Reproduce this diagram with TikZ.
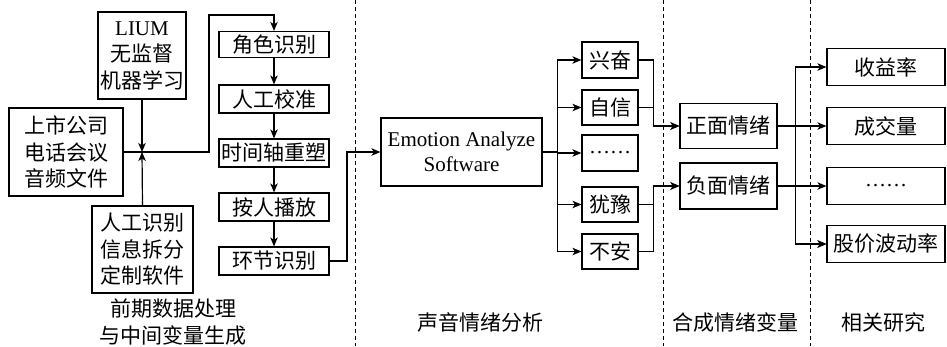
\documentclass[tikz,border=0pt]{standalone}
\usepackage{fontspec}
\setmainfont{Liberation Serif}
\newfontfamily\cjk{Noto Sans CJK SC}
\usetikzlibrary{arrows.meta}
\begin{document}
\begin{tikzpicture}[x=1pt,y=-1pt,
  every node/.style={font=\cjk\fontsize{21}{26.5}\selectfont},
  box/.style={draw, line width=1.2pt, inner sep=0pt, align=center},
  conn/.style={line width=1.2pt},
  arr/.style={conn, -{Stealth[length=9pt,width=7.5pt,inset=2.5pt]}},
  sep/.style={line width=1pt, dash pattern=on 4pt off 3pt},
  lab/.style={align=center}]
\useasboundingbox (0,0) rectangle (947,346);
% separators
\draw[sep] (355,0) -- (355,346);
\draw[sep] (663,0) -- (663,346);
\draw[sep] (810,0) -- (810,346);
% left part
\node[box, minimum width=114pt, minimum height=88pt] (src) at (66,152) {上市公司\\电话会议\\音频文件};
\node[box, minimum width=88pt, minimum height=87pt] (lium) at (142,55.5) {{\rmfamily LIUM}\\无监督\\机器学习};
\node[box, minimum width=101pt, minimum height=87pt] (man) at (142.5,249.5) {人工识别\\信息拆分\\定制软件};
\coordinate (J) at (142,152);
\coordinate (up) at (209,15);
\node[box, minimum width=110pt, minimum height=26pt] (c1) at (274,44.5) {角色识别};
\node[box, minimum width=110pt, minimum height=28pt] (c2) at (274,99) {人工校准};
\node[box, minimum width=110pt, minimum height=28pt] (c3) at (274,153) {时间轴重塑};
\node[box, minimum width=110pt, minimum height=28pt] (c4) at (274,207) {按人播放};
\node[box, minimum width=110pt, minimum height=28pt] (c5) at (274,261) {环节识别};
\coordinate (down) at (347,261);
\draw[conn] (src.east) -- (J);
\draw[arr] (lium.south) -- (J);
\draw[arr] (man.north) -- (J);
\draw[arr] (J) -| (up) -| (c1.north);
\draw[arr] (c1) -- (c2);
\draw[arr] (c2) -- (c3);
\draw[arr] (c3) -- (c4);
\draw[arr] (c4) -- (c5);
% emotion software
\node[box, minimum width=161pt, minimum height=68pt, font=\rmfamily\fontsize{21}{25}\selectfont] (emo) at (461.5,152) {Emotion Analyze\\Software};
\draw[arr] (c5.east) -- (down) |- (emo.west);
\node[box, minimum width=56pt, minimum height=36pt] (e1) at (610,60) {兴奋};
\node[box, minimum width=56pt, minimum height=35pt] (e2) at (610,107.5) {自信};
\node[box, minimum width=56pt, minimum height=36pt] (e3) at (610,153) {\rmfamily ……};
\node[box, minimum width=56pt, minimum height=35pt] (e4) at (610,204.5) {犹豫};
\node[box, minimum width=56pt, minimum height=35pt] (e5) at (610,251.5) {不安};
\foreach \e in {e1,e2,e3,e4,e5}{
  \draw[arr] (emo.east) -- ++(15,0) |- (\e.west);
}
% synthetic variables
\node[box, minimum width=97pt, minimum height=45pt] (pos) at (728.5,126) {正面情绪};
\node[box, minimum width=97pt, minimum height=46pt] (neg) at (728.5,186) {负面情绪};
\draw[arr] (e1.east) -- ++(15,0) |- (pos.west);
\draw[arr] (e2.east) -- ++(15,0) |- (pos.west);
\draw[arr] (e4.east) -- ++(15,0) |- (neg.west);
\draw[arr] (e5.east) -- ++(15,0) |- (neg.west);
% related research
\node[box, minimum width=118pt, minimum height=37pt] (r1) at (886,67) {收益率};
\node[box, minimum width=118pt, minimum height=37pt] (r2) at (886,126) {成交量};
\node[box, minimum width=118pt, minimum height=37pt] (r3) at (886,186) {\rmfamily ……};
\node[box, minimum width=118pt, minimum height=37pt] (r4) at (886,244) {股价波动率};
\draw[arr] (pos.east) -- ++(18,0) |- (r1.west);
\draw[arr] (pos.east) -- (r2.west);
\draw[arr] (pos.east) -- ++(18,0) |- (r4.west);
\draw[arr] (neg.east) -- (r3.west);
\draw[arr] (neg.east) -- ++(18,0) |- (r4.west);
% labels
\node[lab] (l1) at (173,322) {前期数据处理\\与中间变量生成};
\node[lab] (l2) at (480,322) {声音情绪分析};
\node[lab] (l3) at (735,322) {合成情绪变量};
\node[lab] (l4) at (883,322) {相关研究};
\end{tikzpicture}
\end{document}
